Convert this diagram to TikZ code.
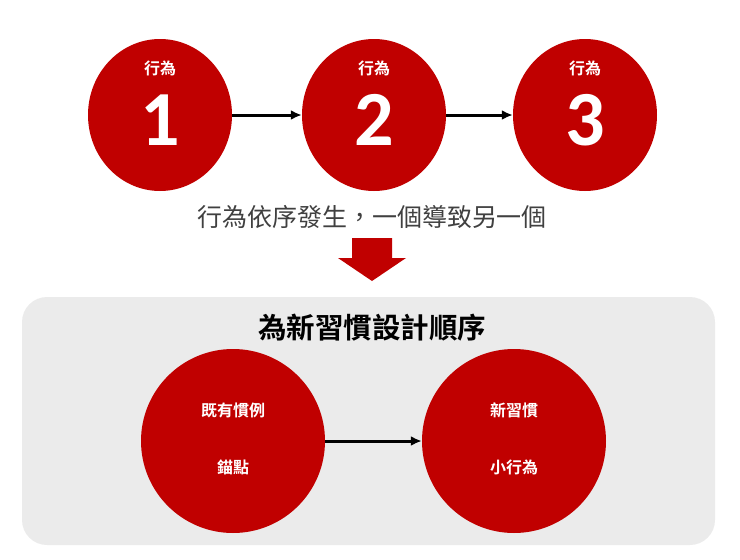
\documentclass[tikz,border=0pt]{standalone}
\usepackage{fontspec}
\newfontfamily\cjk{Noto Sans CJK TC}
\newfontfamily\cjkb{Noto Sans CJK TC Bold}
\newfontfamily\numf{Carlito}
\definecolor{myred}{HTML}{C00000}
\definecolor{mygray}{HTML}{EBEBEB}
\usetikzlibrary{shapes.geometric,arrows.meta}
\begin{document}
\begin{tikzpicture}[x=1pt,y=-1pt,
  bigc/.style={ellipse,fill=myred,minimum width=144pt,minimum height=152pt,inner sep=0pt},
  lowc/.style={circle,fill=myred,minimum size=184pt,inner sep=0pt},
  conn/.style={-{Latex[length=11pt,width=10pt]},line width=3pt,black},
  small/.style={text=white,font=\cjkb\fontsize{16}{18}\selectfont},
  num/.style={text=white,font=\numf\bfseries\fontsize{78}{80}\selectfont}]
\useasboundingbox (0,0) rectangle (740,560);
\fill[mygray,rounded corners=25pt] (22,297) rectangle (715,545);
\foreach \n/\x in {1/160,2/374,3/585}{
  \node[bigc] (c\n) at (\x,115) {};
  \node[small] (t\n) at (\x,68) {行為};
  \node[num] (n\n) at (\x,120) {\n};
}
\draw[conn] (c1.east) -- (c2.west);
\draw[conn] (c2.east) -- (c3.west);
\node[font=\cjk\fontsize{25}{28}\selectfont,text=black!75] (cap) at (372,217) {行為依序發生，一個導致另一個};
\fill[myred] (352,238) -- (392,238) -- (392,258) -- (406,258) -- (372,281) -- (338,258) -- (352,258) -- cycle;
\node[font=\cjkb\fontsize{28.5}{32}\selectfont] (title) at (372,328) {為新習慣設計順序};
\node[lowc] (a) at (233,441) {};
\node[lowc] (b) at (514,441) {};
\node[small] (a1) at (233,410) {既有慣例};
\node[small] (a2) at (233,467) {錨點};
\node[small] (b1) at (514,410) {新習慣};
\node[small] (b2) at (514,467) {小行為};
\draw[conn] (a.east) -- (b.west);
\end{tikzpicture}
\end{document}
